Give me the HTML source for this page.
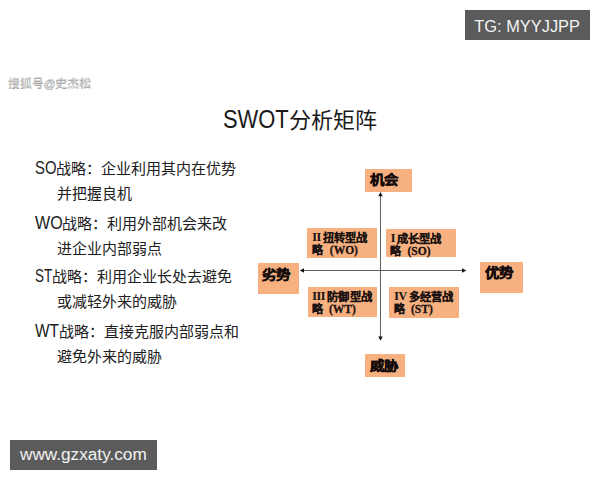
<!DOCTYPE html>
<html lang="zh-CN">
<head>
<meta charset="utf-8">
<style>
html,body{margin:0;padding:0;}
body{width:600px;height:480px;position:relative;overflow:hidden;background:#fff;font-family:"Liberation Sans",sans-serif;color:#1e1e1e;}
.a{position:absolute;white-space:nowrap;}
.tag{position:absolute;background:#5b5b5b;color:#f4f4f4;}
.lt{position:absolute;white-space:nowrap;font-size:15px;line-height:20px;color:#202020;}
.bx{position:absolute;background:#f7b180;}
.lb{position:absolute;white-space:nowrap;font-weight:900;-webkit-text-stroke:0.5px #140c0c;transform:scaleY(.9);transform-origin:0 50%;font-size:14.5px;line-height:20px;color:#140c0c;}
.q{position:absolute;white-space:nowrap;font-weight:900;-webkit-text-stroke:0.2px #1a1212;font-size:11px;line-height:13px;color:#1a1212;}
.r{font-family:"Liberation Serif",serif;font-weight:bold;font-size:11.5px;-webkit-text-stroke:0.3px #1a1212;}
.c{font-size:11.2px;letter-spacing:0.3px;}
.rn{font-size:12px;letter-spacing:-0.4px;-webkit-text-stroke:0.1px #1a1212;}
.e{display:inline-block;font-size:17.5px;transform-origin:0 50%;}
</style>
</head>
<body>
<div class="tag" style="left:465px;top:10px;width:125px;height:30px;"></div>
<div class="a" style="left:474.3px;top:15.5px;font-size:16.4px;line-height:20px;color:#f4f4f4;">TG: MYYJJPP</div>

<div class="a" style="left:8px;top:75px;font-size:11.8px;line-height:16px;color:#cfcfcf;text-shadow:-0.5px 0.5px 0 #9a9a9a;">搜狐号@史杰松</div>

<div class="a" style="left:223px;top:104.5px;font-size:22px;line-height:28px;color:#1a1a1a;"><span class="e" style="font-size:25px;width:66px;transform:scaleX(.876)">SWOT</span>分析矩阵</div>

<div class="lt" style="left:35px;top:158px;"><span class="e" style="width:20.5px;transform:scaleX(0.85)">SO</span>战略：企业利用其内在优势</div>
<div class="lt" style="left:57px;top:184px;">并把握良机</div>
<div class="lt" style="left:35px;top:213px;"><span class="e" style="width:27px;transform:scaleX(0.92)">WO</span>战略：利用外部机会来改</div>
<div class="lt" style="left:57px;top:239px;">进企业内部弱点</div>
<div class="lt" style="left:35px;top:266px;"><span class="e" style="width:16.5px;transform:scaleX(0.77)">ST</span>战略：利用企业长处去避免</div>
<div class="lt" style="left:57px;top:292px;">或减轻外来的威胁</div>
<div class="lt" style="left:35px;top:321px;"><span class="e" style="width:23.5px;transform:scaleX(0.88)">WT</span>战略：直接克服内部弱点和</div>
<div class="lt" style="left:57px;top:347px;">避免外来的威胁</div>

<!-- diagram -->
<div class="bx" style="left:365px;top:169px;width:47px;height:23px;"></div>
<div class="lb" style="left:370px;top:168.5px;">机会</div>
<div class="bx" style="left:258px;top:263px;width:41px;height:31px;"></div>
<div class="lb" style="left:262px;top:263.5px;">劣势</div>
<div class="bx" style="left:480px;top:262px;width:43px;height:31px;"></div>
<div class="lb" style="left:484.5px;top:261.5px;">优势</div>
<div class="bx" style="left:365px;top:354px;width:40px;height:23px;"></div>
<div class="lb" style="left:370px;top:354.5px;">威胁</div>

<div class="bx" style="left:307px;top:228px;width:70px;height:30px;"></div>
<div class="bx" style="left:386px;top:229px;width:70px;height:27.5px;"></div>
<div class="bx" style="left:307.5px;top:287px;width:69.5px;height:30px;"></div>
<div class="bx" style="left:389px;top:287px;width:69.5px;height:30.5px;"></div>

<div class="q r rn" style="left:312.3px;top:230.7px;">II</div>
<div class="q c" style="left:322.5px;top:232px;">扭转型战</div>
<div class="q" style="left:311.5px;top:244px;">略</div>
<div class="q r" style="left:329.8px;top:244px;">(WO)</div>

<div class="q r rn" style="left:390.8px;top:231.7px;">I</div>
<div class="q c" style="left:396.5px;top:233px;">成长型战</div>
<div class="q" style="left:389.5px;top:244.5px;">略</div>
<div class="q r" style="left:407.5px;top:244.5px;">(SO)</div>

<div class="q r rn" style="left:312.3px;top:289.7px;">III</div>
<div class="q c" style="left:327px;top:291px;">防御型战</div>
<div class="q" style="left:311.5px;top:302.5px;">略</div>
<div class="q r" style="left:329px;top:302.5px;">(WT)</div>

<div class="q r rn" style="left:394.3px;top:289.7px;">IV</div>
<div class="q c" style="left:408.5px;top:291px;">多经营战</div>
<div class="q" style="left:393.5px;top:302.5px;">略</div>
<div class="q r" style="left:411px;top:302.5px;">(ST)</div>

<svg class="a" style="left:0;top:0;" width="600" height="480" viewBox="0 0 600 480">
  <line x1="380.5" y1="195" x2="380.5" y2="338" stroke="#606060" stroke-width="1"/>
  <path d="M380.5 192 L378.3 196.3 L382.7 196.3 Z" fill="#111"/>
  <path d="M380.5 340.8 L378.3 336.5 L382.7 336.5 Z" fill="#111"/>
  <line x1="302" y1="270.5" x2="464" y2="270.5" stroke="#606060" stroke-width="1"/>
  <path d="M299.8 270.5 L304 268.3 L304 272.7 Z" fill="#111"/>
  <path d="M466.3 270.5 L462 268.3 L462 272.7 Z" fill="#111"/>
</svg>

<div class="tag" style="left:10px;top:440px;width:147px;height:30px;"></div>
<div class="a" style="left:20px;top:444.2px;font-size:17.2px;line-height:20px;color:#f4f4f4;">www.gzxaty.com</div>
</body>
</html>
